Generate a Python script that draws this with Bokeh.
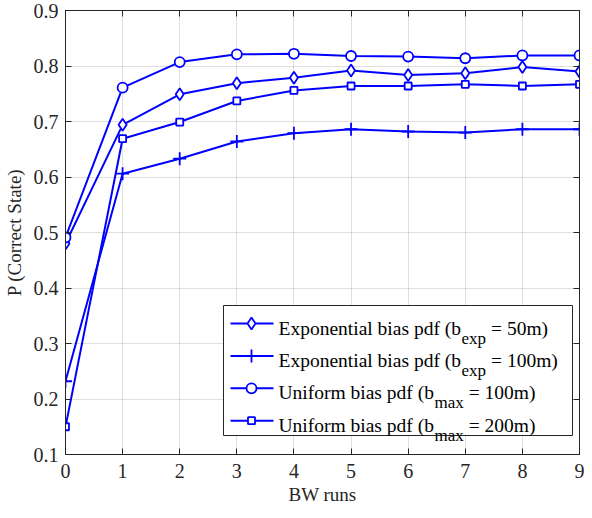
from bokeh.plotting import figure
from bokeh.models import (Range1d, FixedTicker, LinearAxis, BoxAnnotation, Label,
                          CustomJSTickFormatter)
from bokeh.embed import file_html
from bokeh.resources import INLINE

# ---------------- data ----------------
runs = [0, 1, 2, 3, 4, 5, 6, 7, 8, 9]
exp_50 = [0.480, 0.694, 0.749, 0.769, 0.779, 0.792, 0.784, 0.787, 0.798, 0.790]
exp_100 = [0.232, 0.606, 0.633, 0.664, 0.679, 0.686, 0.682, 0.680, 0.686, 0.686]
uni_100 = [0.491, 0.761, 0.807, 0.821, 0.822, 0.818, 0.817, 0.814, 0.819, 0.819]
uni_200 = [0.150, 0.669, 0.699, 0.737, 0.756, 0.764, 0.764, 0.767, 0.764, 0.767]

label_main = ["Exponential bias pdf (b", "Exponential bias pdf (b",
              "Uniform bias pdf (b", "Uniform bias pdf (b"]
label_sub = ["exp", "exp", "max", "max"]
label_tail = ["= 50m)", "= 100m)", "= 100m)", "= 200m)"]

x_ticks = [0, 1, 2, 3, 4, 5, 6, 7, 8, 9]
y_ticks = [0.1, 0.2, 0.3, 0.4, 0.5, 0.6, 0.7, 0.8, 0.9]
y_tick_labels = ["0.1", "0.2", "0.3", "0.4", "0.5", "0.6", "0.7", "0.8", "0.9"]

# ---------------- style ----------------
BLUE = "#0000ff"
AX = "#262626"
FONT = "Liberation Serif"
FW, FH = 514, 444
XMIN, XMAX, YMIN, YMAX = 0, 9, 0.1, 0.9

series = [exp_50, exp_100, uni_100, uni_200]
markers = ["diamond", "cross", "circle", "square"]
msizes = [12, 13, 10, 7]

p = figure(frame_width=FW, frame_height=FH,
           x_range=Range1d(XMIN, XMAX), y_range=Range1d(YMIN, YMAX),
           output_backend="svg", toolbar_location=None,
           min_border_left=56, min_border_right=6,
           min_border_top=10, min_border_bottom=54,
           x_axis_label="BW runs", y_axis_label="P (Correct State)")
p.background_fill_color = "white"
p.border_fill_color = "white"
p.outline_line_color = AX
p.outline_line_alpha = 1

p.xaxis.ticker = FixedTicker(ticks=x_ticks)
p.yaxis.ticker = FixedTicker(ticks=y_ticks)
p.yaxis.major_label_overrides = {t: s for t, s in zip(y_ticks, y_tick_labels)}

for ax in (p.xaxis[0], p.yaxis[0]):
    ax.axis_line_color = AX
    ax.major_tick_line_color = AX
    ax.major_tick_in = 6
    ax.major_tick_out = 0
    ax.minor_tick_line_color = None
    ax.major_label_text_font = FONT
    ax.major_label_text_font_size = "20px"
    ax.major_label_text_color = AX
    ax.axis_label_text_font = FONT
    ax.axis_label_text_font_size = "19px"
    ax.axis_label_text_font_style = "normal"
    ax.axis_label_text_color = AX
p.xaxis.major_label_standoff = 9
p.xaxis.axis_label_standoff = 3
p.yaxis.major_label_standoff = 7
p.yaxis.axis_label_standoff = 6

for g in (p.xgrid[0], p.ygrid[0]):
    g.grid_line_color = AX
    g.grid_line_alpha = 0.15

for loc, ticks, standoff in (("above", x_ticks, 9), ("right", y_ticks, 0)):
    ax = LinearAxis(ticker=FixedTicker(ticks=ticks),
                    formatter=CustomJSTickFormatter(code="return ''"),
                    major_tick_in=6, major_tick_out=0,
                    minor_tick_line_color=None,
                    axis_line_color=AX, major_tick_line_color=AX,
                    major_label_standoff=standoff, major_label_text_font_size="1px")
    p.add_layout(ax, loc)

for ys, m, s in zip(series, markers, msizes):
    p.line(runs, ys, line_color=BLUE, line_width=2)
    p.scatter(runs, ys, marker=m, size=s, line_color=BLUE,
              fill_color="white", line_width=1.8)

# ---------------- legend (laid out in frame pixels) ----------------
def dx(px):
    return XMIN + px * (XMAX - XMIN) / FW

def dy(py):
    return YMAX - py * (YMAX - YMIN) / FH

TIMES_W = {"E": 611, "x": 500, "p": 500, "o": 500, "n": 500, "e": 444, "t": 278,
           "i": 278, "a": 444, "l": 278, " ": 250, "b": 500, "s": 389, "d": 500,
           "f": 333, "(": 333, "U": 722, "r": 333, "m": 778, "=": 564, "5": 500,
           "0": 500, "1": 500, "2": 500, ")": 333}

def tw(s, size):
    return sum(TIMES_W.get(c, 500) for c in s) * size / 1000.0

LB_R = FW - 7
LB_L = LB_R - 349
LB_B = FH - 19
LB_T = LB_B - 130
p.add_layout(BoxAnnotation(left=dx(LB_L), right=dx(LB_R), top=dy(LB_T), bottom=dy(LB_B),
                           fill_color="white", fill_alpha=1.0,
                           line_color=AX, line_alpha=1.0, line_width=1))

LFS = 19.5
for i, (m, s) in enumerate(zip(markers, msizes)):
    ly = LB_T + 18 + 32.4 * i
    p.line([dx(LB_L + 7), dx(LB_L + 50)], [dy(ly), dy(ly)],
           line_color=BLUE, line_width=2, level="overlay")
    p.scatter([dx(LB_L + 28)], [dy(ly)], marker=m, size=s, line_color=BLUE,
              fill_color="white", line_width=1.8, level="overlay")
    tx = LB_L + 55
    p.add_layout(Label(x=dx(tx), y=dy(ly + 4.5), text=label_main[i],
                       text_font=FONT, text_font_size=f"{LFS}px",
                       text_baseline="alphabetic", text_color="black"))
    sx = tx + tw(label_main[i], LFS) + 0.5
    p.add_layout(Label(x=dx(sx), y=dy(ly + 14.5), text=label_sub[i],
                       text_font=FONT, text_font_size="17px",
                       text_baseline="alphabetic", text_color="black"))
    ex = sx + tw(label_sub[i], 17) + 5
    p.add_layout(Label(x=dx(ex), y=dy(ly + 4.5), text=label_tail[i],
                       text_font=FONT, text_font_size=f"{LFS}px",
                       text_baseline="alphabetic", text_color="black"))

open("out.html", "w").write(file_html(p, INLINE))
